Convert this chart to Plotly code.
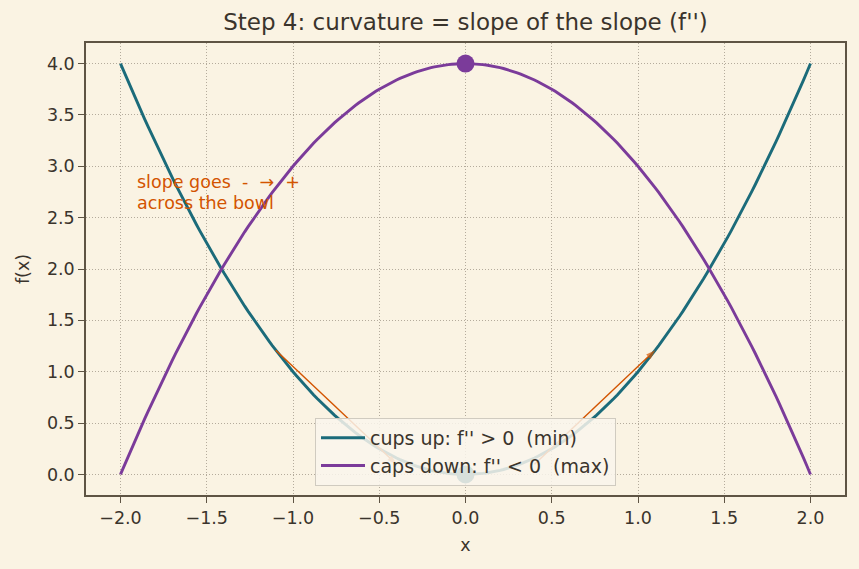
import numpy as np
import plotly.graph_objects as go

# Data
x_vals = np.linspace(-2, 2, 201)
cups_up = x_vals ** 2          # f(x) = x^2
caps_down = 4 - x_vals ** 2    # f(x) = 4 - x^2
min_point = (0.0, 0.0)
max_point = (0.0, 4.0)
arrow_left_x = [-1.1, -0.4]
arrow_left_y = [1.21, 0.1]
arrow_right_x = [0.4, 1.1]
arrow_right_y = [0.1, 1.21]
note_lines = ["slope goes  -  \u2192  +", "across the bowl"]
note_x = -1.9
note_y = [2.845, 2.64]
x_ticks = [-2.0, -1.5, -1.0, -0.5, 0.0, 0.5, 1.0, 1.5, 2.0]
y_ticks = [0.0, 0.5, 1.0, 1.5, 2.0, 2.5, 3.0, 3.5, 4.0]

BG = "#faf3e3"
TEAL = "#1b6b7a"
PURPLE = "#7b3b9a"
ORANGE = "#d35400"
TXT = "#3a342c"
SPINE = "#5e5444"

def fmt(v):
    s = f"{v:.1f}"
    return s.replace("-", "\u2212")

fig = go.Figure()
fig.add_trace(go.Scatter(x=x_vals, y=cups_up, mode="lines",
                         line=dict(color=TEAL, width=2.9),
                         name="cups up: f'' > 0  (min)"))
fig.add_trace(go.Scatter(x=x_vals, y=caps_down, mode="lines",
                         line=dict(color=PURPLE, width=2.9),
                         name="caps down: f'' < 0  (max)"))
fig.add_trace(go.Scatter(x=[min_point[0]], y=[min_point[1]], mode="markers",
                         marker=dict(color=TEAL, size=18), showlegend=False))
fig.add_trace(go.Scatter(x=[max_point[0]], y=[max_point[1]], mode="markers",
                         marker=dict(color=PURPLE, size=18), showlegend=False))

# arrows (drawn as traces so the legend box sits above them)
for ax_, ay_ in [(arrow_left_x, arrow_left_y), (arrow_right_x, arrow_right_y)]:
    fig.add_trace(go.Scatter(x=ax_, y=ay_, mode="lines+markers",
                             line=dict(color=ORANGE, width=1.4),
                             marker=dict(symbol="arrow", angleref="previous",
                                         size=[0, 10], color=ORANGE,
                                         line=dict(width=0)),
                             showlegend=False, hoverinfo="skip"))

for txt, yy in zip(note_lines, note_y):
    fig.add_annotation(x=note_x, y=yy, xref="x", yref="y", text=txt,
                       showarrow=False, xanchor="left", yanchor="middle",
                       xshift=-3, align="left",
                       font=dict(color=ORANGE, size=17.5))

axis_common = dict(showline=True, linecolor=SPINE, linewidth=1.5, mirror=True,
                   ticks="outside", ticklen=6, tickcolor=SPINE, tickwidth=1.3,
                   showgrid=True, gridcolor="rgba(150,140,125,0.7)",
                   griddash="1px,2px", gridwidth=1, zeroline=False,
                   tickfont=dict(color=TXT, size=17.5))

fig.update_xaxes(range=[-2.2, 2.2], tickvals=x_ticks,
                 ticktext=[fmt(v) for v in x_ticks],
                 title=dict(text="x", font=dict(color=TXT, size=17.5), standoff=12),
                 **axis_common)
fig.update_yaxes(range=[-0.2, 4.2], tickvals=y_ticks,
                 ticktext=[fmt(v) for v in y_ticks],
                 title=dict(text="f(x)", font=dict(color=TXT, size=17.5), standoff=13),
                 **axis_common)

fig.update_layout(
    width=859, height=569,
    paper_bgcolor=BG, plot_bgcolor=BG,
    font=dict(family="DejaVu Sans", color=TXT),
    margin=dict(l=86, r=14, t=43, b=74),
    title=dict(text="Step 4: curvature = slope of the slope (f'')",
               x=0.5419, xanchor="center", y=0.962, yanchor="middle",
               font=dict(size=23, color=TXT)),
    legend=dict(x=0.5, y=0.02, xanchor="center", yanchor="bottom",
                bgcolor="rgba(249,245,236,0.85)",
                bordercolor="rgba(205,200,190,0.95)", borderwidth=1,
                font=dict(size=19, color=TXT), itemwidth=44,
                tracegroupgap=0),
)

fig.write_html("out.html")
